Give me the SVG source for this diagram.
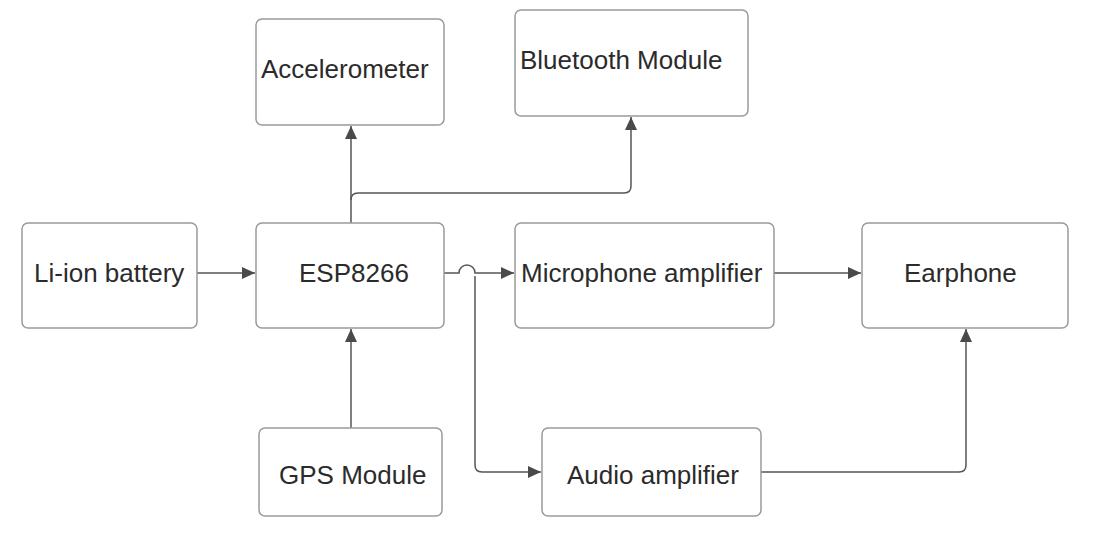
<svg xmlns="http://www.w3.org/2000/svg" width="1109" height="543" viewBox="0 0 1109 543">
<style>
.box{fill:#fff;stroke:#9a9a9a;stroke-width:1.5}
.lbl{font-family:"Liberation Sans",Arial,sans-serif;font-size:26px;fill:#2b2b2b}
.ln{fill:none;stroke:#555;stroke-width:1.5}
</style>
<defs>
<marker id="ah" markerWidth="14" markerHeight="12" refX="13" refY="6" orient="auto" markerUnits="userSpaceOnUse">
<path d="M0,0 L13,6 L0,12 Z" fill="#4a4a4a"/>
</marker>
</defs>
<rect width="1109" height="543" fill="#fff"/>
<g id="connectors">
<path class="ln" d="M197,273 H255" marker-end="url(#ah)"/>
<path class="ln" d="M351,223 V126" marker-end="url(#ah)"/>
<path class="ln" d="M351,200 Q351,193 358,193 H624 Q631,193 631,186 V117" marker-end="url(#ah)"/>
<path class="ln" d="M351,428 V329" marker-end="url(#ah)"/>
<path class="ln" d="M444,273 H459 A8,8 0 0 1 475,273 H514" marker-end="url(#ah)"/>
<path class="ln" d="M475,276 V465 Q475,472 482,472 H541" marker-end="url(#ah)"/>
<path class="ln" d="M774,273 H861" marker-end="url(#ah)"/>
<path class="ln" d="M761,472 H959 Q966,472 966,465 V329" marker-end="url(#ah)"/>
</g>
<g id="battery"><rect class="box" x="22" y="223" width="175" height="105" rx="6"/><text class="lbl" x="34" y="282">Li-ion battery</text></g>
<g id="esp8266"><rect class="box" x="256" y="223" width="188" height="105" rx="6"/><text class="lbl" x="299" y="282">ESP8266</text></g>
<g id="accelerometer"><rect class="box" x="256" y="19" width="188" height="106" rx="6"/><text class="lbl" x="261" y="78">Accelerometer</text></g>
<g id="bluetooth"><rect class="box" x="515" y="10" width="233" height="106" rx="6"/><text class="lbl" x="520" y="69">Bluetooth Module</text></g>
<g id="microphone"><rect class="box" x="515" y="223" width="259" height="105" rx="6"/><text class="lbl" x="521" y="282">Microphone amplifier</text></g>
<g id="earphone"><rect class="box" x="862" y="223" width="206" height="105" rx="6"/><text class="lbl" x="904" y="282">Earphone</text></g>
<g id="gps"><rect class="box" x="259" y="428" width="183" height="88" rx="6"/><text class="lbl" x="279" y="484">GPS Module</text></g>
<g id="audio"><rect class="box" x="542" y="428" width="219" height="88" rx="6"/><text class="lbl" x="567" y="484">Audio amplifier</text></g>
</svg>
